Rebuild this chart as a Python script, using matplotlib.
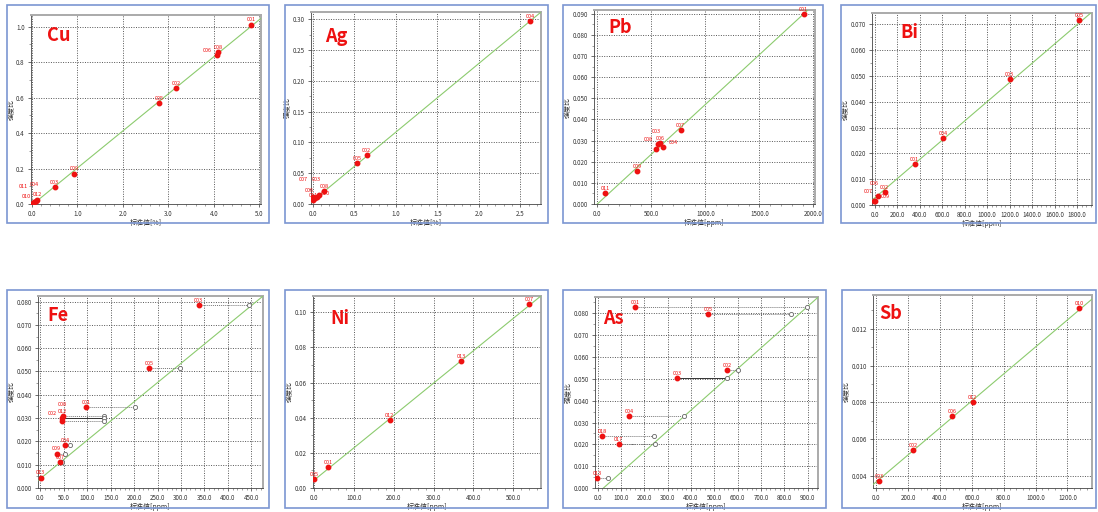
import numpy as np
import matplotlib
matplotlib.use('Agg')
import matplotlib.pyplot as plt
from matplotlib.patches import Rectangle
from matplotlib.ticker import MultipleLocator, AutoMinorLocator, FormatStrFormatter

plt.rcParams['font.family'] = ['Noto Sans CJK SC', 'DejaVu Sans']

W, H = 1098, 512

# ---- 数据 ----
# Cu
cu_x = [4.82, 4.10, 4.08, 3.18, 2.80, 0.93, 0.50, 0.02, 0.05, 0.08, 0.11]
cu_y = [1.012, 0.855, 0.840, 0.652, 0.572, 0.172, 0.097, 0.005, 0.012, 0.018, 0.025]
cu_lab = ['001', '008', '006', '002', '005', '009', '003', '011', '004', '010', '012']
cu_fit = (0.209, -0.006)

# Ag
ag_x = [2.62, 0.65, 0.54, 0.14, 0.01, 0.03, 0.05, 0.08, 0.00]
ag_y = [0.297, 0.080, 0.066, 0.021, 0.006, 0.009, 0.012, 0.015, 0.012]
ag_lab = ['004', '002', '005', '008', '011', '010', '003', '006', '007']
ag_fit = (0.1116, 0.005)

# Pb
pb_x = [1910, 770, 610, 580, 565, 545, 370, 75]
pb_y = [0.0900, 0.0348, 0.0268, 0.0290, 0.0285, 0.0262, 0.0155, 0.0051]
pb_lab = ['001', '007', '004', '006', '008', '003', '009', '011']
pb_fit = (4.71e-5, 0.0)

# Bi
bi_x = [1820, 1200, 610, 355, 90, 30, 5, -5]
bi_y = [0.0716, 0.0487, 0.0260, 0.0157, 0.0051, 0.0035, 0.0017, 0.0016]
bi_lab = ['005', '003', '004', '001', '002', '007', '009', '006']
bi_fit = (3.73e-5, 0.0027)

# Fe（红点=测量值，灰圈=标准值）
fe_meas = [338, 232, 98, 48, 47, 46, 53, 35, 42, 1]
fe_std = [445, 297, 201, 136, 136, 135, 63, 52, 47, 0]
fe_y = [0.0785, 0.0515, 0.0347, 0.0308, 0.0300, 0.0287, 0.0183, 0.0148, 0.0110, 0.0045]
fe_lab = ['003', '005', '001', '012', '002', '008', '004', '009', '007', '013']
fe_solid = [False, False, False, False, True, False, False, False, False, False]
fe_fit = (1.65e-4, 0.004)

# Ni
ni_x = [540, 370, 190, 35, 0]
ni_y = [0.1045, 0.0725, 0.0385, 0.0120, 0.0052]
ni_lab = ['007', '013', '012', '001', '005']
ni_fit = (1.84e-4, 0.0045)

# As
as_meas = [160, 474, 556, 340, 134, 21, 91, -1]
as_std = [898, 831, 600, 553, 370, 243, 246, 43]
as_y = [0.0828, 0.0797, 0.0540, 0.0503, 0.0330, 0.0240, 0.0200, 0.0045]
as_lab = ['001', '005', '002', '003', '004', '018', '017', '013']
as_solid = [False, False, False, True, False, False, False, False]
as_fit = (9.5e-5, -0.0024)

# Sb
sb_x = [1275, 605, 475, 230, 20]
sb_y = [0.01312, 0.00800, 0.00725, 0.00543, 0.00375]
sb_lab = ['010', '012', '006', '002', '003']
sb_fit = (7.31e-6, 0.0037)

RED = '#ee1111'
GREEN = '#8ccb6e'
BLUE = '#7b96d2'

fig = plt.figure(figsize=(W / 100, H / 100), dpi=100)


def px_rect(x0, y0, x1, y1):
    return [x0 / W, 1 - y1 / H, (x1 - x0) / W, (y1 - y0) / H]


def make_panel(frame, box, name, name_pos, xlim, ylim, xstep, ystep, xfmt, yfmt, unit):
    fig.patches.append(Rectangle((frame[0] / W, 1 - frame[3] / H),
                                 (frame[2] - frame[0]) / W, (frame[3] - frame[1]) / H,
                                 transform=fig.transFigure, fill=False,
                                 edgecolor=BLUE, lw=1.2))
    ax = fig.add_axes(px_rect(*box))
    ax.set_xlim(*xlim)
    ax.set_ylim(*ylim)
    ax.xaxis.set_major_locator(MultipleLocator(xstep))
    ax.yaxis.set_major_locator(MultipleLocator(ystep))
    ax.xaxis.set_minor_locator(AutoMinorLocator(5))
    ax.yaxis.set_minor_locator(AutoMinorLocator(2))
    ax.xaxis.set_major_formatter(FormatStrFormatter(xfmt))
    ax.yaxis.set_major_formatter(FormatStrFormatter(yfmt))
    ax.tick_params(which='major', direction='out', length=2.5, width=0.5,
                   labelsize=4.5, pad=2, colors='#333333')
    ax.tick_params(which='minor', direction='out', length=1.3, width=0.4, colors='#555555')
    ax.grid(True, which='major', color='#555555', ls=(0, (1, 1.5)), lw=0.7)
    for s in ['left', 'bottom']:
        ax.spines[s].set_color('#444444')
        ax.spines[s].set_linewidth(0.6)
    for s in ['top', 'right']:
        ax.spines[s].set_color('#aaaaaa')
        ax.spines[s].set_linewidth(1.4)
    ax.set_xlabel('标准值[' + unit + ']', fontsize=5, labelpad=0.5, color='#333333')
    ax.set_ylabel('强度比', fontsize=5, labelpad=1, color='#333333')
    ax.text(name_pos[0], name_pos[1], name, transform=ax.transAxes, ha='left', va='center',
            fontsize=13, fontweight='bold', color=RED, zorder=6)
    return ax


def fit_line(ax, fit):
    xs = np.array(ax.get_xlim())
    ax.plot(xs, fit[0] * xs + fit[1], color=GREEN, lw=0.8, zorder=3)


# 标签候选偏移（points），密集处依次尝试
CANDIDATES = [(0, 1.5), (-7, 1.5), (7, 1.5), (0, 6), (-7, 6), (7, 6),
              (0, 10.5), (-7, 10.5), (7, 10.5), (0, 15)]


def red_points(ax, xs, ys, labs):
    ax.plot(xs, ys, 'o', color=RED, ms=3.2, zorder=5)
    placed = []
    disp = ax.transData.transform(np.column_stack([xs, ys])) * 72 / 100
    # 从上到下放置，高处点优先
    order = np.argsort(-np.asarray(ys))
    for i in order:
        px, py = disp[i]
        chosen = CANDIDATES[0]
        for dx, dy in CANDIDATES:
            cx, cy = px + dx, py + dy + 2
            if all(abs(cx - qx) > 7 or abs(cy - qy) > 4 for qx, qy in placed):
                chosen = (dx, dy)
                break
        placed.append((px + chosen[0], py + chosen[1] + 2))
        ax.annotate(labs[i], (xs[i], ys[i]), xytext=chosen, textcoords='offset points',
                    ha='center', va='bottom', fontsize=4, color=RED, zorder=6)


def shift_points(ax, meas, std, ys, labs, solid):
    for m, s, y, sol in zip(meas, std, ys, solid):
        if sol:
            ax.plot([m, s], [y, y], color='#333333', lw=0.7, zorder=4)
        else:
            ax.plot([m, s], [y, y], color='#777777', lw=0.7, ls=(0, (1, 1)), zorder=4)
    ax.plot(std, ys, 'o', mfc='white', mec='#666666', mew=0.6, ms=3, zorder=5)
    red_points(ax, meas, ys, labs)


# Cu
ax = make_panel((7, 5, 269, 223), (31, 15, 261, 204), 'Cu', (0.07, 0.894),
                (-0.02, 5.04), (0, 1.066), 1.0, 0.2, '%.1f', '%.1f', '%')
fit_line(ax, cu_fit)
red_points(ax, cu_x, cu_y, cu_lab)

# Ag
ax = make_panel((285, 5, 548, 223), (311, 12, 541, 204), 'Ag', (0.06, 0.875),
                (-0.02, 2.75), (0, 0.312), 0.5, 0.05, '%.1f', '%.2f', '%')
fit_line(ax, ag_fit)
red_points(ax, ag_x, ag_y, ag_lab)

# Pb
ax = make_panel((563, 5, 823, 223), (594, 10, 815, 204), 'Pb', (0.063, 0.91),
                (-31, 2015), (0, 0.0918), 500, 0.01, '%.1f', '%.3f', 'ppm')
fit_line(ax, pb_fit)
red_points(ax, pb_x, pb_y, pb_lab)

# Bi
ax = make_panel((841, 5, 1096, 223), (872, 13, 1092, 205), 'Bi', (0.127, 0.90),
                (-23, 1933), (0, 0.0744), 200, 0.01, '%.1f', '%.3f', 'ppm')
fit_line(ax, bi_fit)
red_points(ax, bi_x, bi_y, bi_lab)

# Fe
ax = make_panel((7, 290, 269, 508), (38, 296, 263, 488), 'Fe', (0.04, 0.90),
                (-5, 475), (0, 0.0824), 50, 0.01, '%.1f', '%.3f', 'ppm')
fit_line(ax, fe_fit)
shift_points(ax, fe_meas, fe_std, fe_y, fe_lab, fe_solid)

# Ni
ax = make_panel((285, 290, 548, 508), (313, 296, 541, 488), 'Ni', (0.075, 0.885),
                (-3, 570), (0, 0.1093), 100, 0.02, '%.1f', '%.2f', 'ppm')
fit_line(ax, ni_fit)
red_points(ax, ni_x, ni_y, ni_lab)

# As
ax = make_panel((563, 290, 826, 508), (595, 297, 818, 488), 'As', (0.036, 0.885),
                (-11, 945), (0, 0.0875), 100, 0.01, '%.1f', '%.3f', 'ppm')
fit_line(ax, as_fit)
shift_points(ax, as_meas, as_std, as_y, as_lab, as_solid)

# Sb
ax = make_panel((842, 290, 1096, 508), (873, 295, 1092, 488), 'Sb', (0.03, 0.906),
                (-20, 1354), (0.00337, 0.01382), 200, 0.002, '%.1f', '%.3f', 'ppm')
fit_line(ax, sb_fit)
red_points(ax, sb_x, sb_y, sb_lab)

fig.savefig('out.png', dpi=100)
